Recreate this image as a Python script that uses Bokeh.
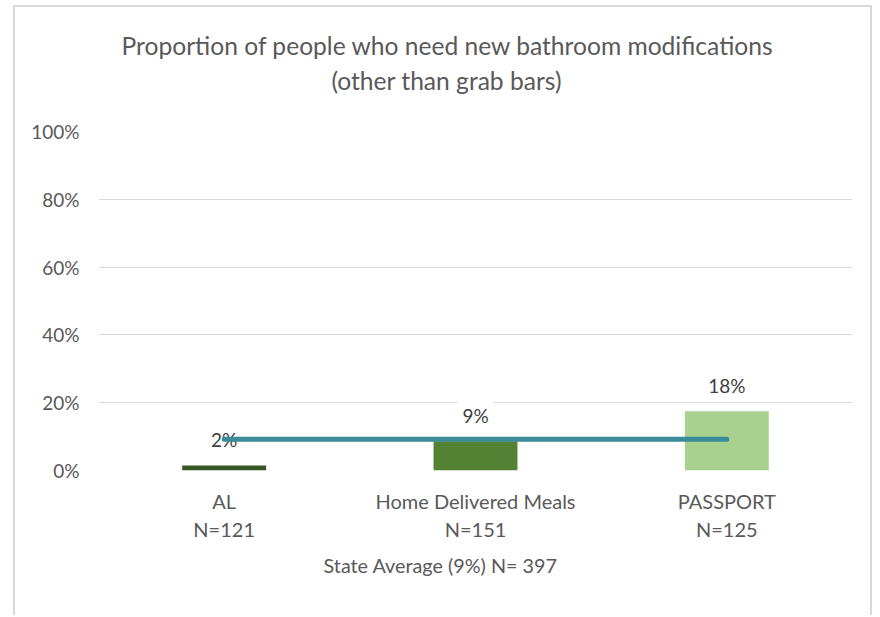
from bokeh.plotting import figure
from bokeh.models import (FactorRange, Range1d, CategoricalAxis, ColumnDataSource,
                          FixedTicker, NumeralTickFormatter, Title)
from bokeh.core.properties import value
from bokeh.embed import file_html
from bokeh.resources import INLINE

# ---------------- data ----------------
title_lines = ["Proportion of people who need new bathroom modifications",
               "(other than grab bars)"]
categories = ["AL", "Home Delivered Meals", "PASSPORT"]
n_labels = ["N=121", "N=151", "N=125"]
shares = [0.015, 0.086, 0.175]
share_labels = ["2%", "9%", "18%"]
state_average = 0.092
axis_title = "State Average (9%) N= 397"
y_ticks = [0, 0.2, 0.4, 0.6, 0.8, 1.0]

# ---------------- style ----------------
bar_colors = ["#375623", "#548235", "#a9d18e"]
line_color = "#3a8c98"
grid_color = "#d9d9d9"
axis_text = "#595959"
label_text = "#404040"
FONT = "Lato"

# page geometry (px)
OX, OY = 15, 7            # figure content origin on page
W, H = 859, 610           # figure size
FL, FR, FT, FB = 98, 852, 131, 470   # plot frame on page

p = figure(width=W, height=H, x_range=FactorRange(*categories), y_range=Range1d(0, 1),
           output_backend="svg", toolbar_location=None, title=None,
           min_border_left=FL - OX, min_border_right=OX + W - FR,
           min_border_top=FT - OY, min_border_bottom=OY + H - FB)
p.styles = {"margin-left": "13px", "margin-top": "5px",
            "border-left": f"2px solid {grid_color}",
            "border-top": f"2px solid {grid_color}",
            "border-right": f"2px solid {grid_color}"}
p.outline_line_color = None
p.background_fill_color = "white"
p.border_fill_color = "white"

src = ColumnDataSource(dict(cat=categories, share=shares, lbl=share_labels, color=bar_colors))

p.vbar(x="cat", top="share", width=0.334, fill_color="color", line_color=None, source=src)
p.text(x="cat", y="share", text="lbl", source=src, text_align="center",
       text_baseline="middle", y_offset=-26, text_font=value(FONT),
       text_font_size="19px", text_color=label_text,
       background_fill_color="white", padding=5)
p.line(x=categories, y=[state_average] * len(categories), line_color=line_color,
       line_width=5, line_cap="round")

# grid
p.xgrid.visible = False
p.ygrid.ticker = FixedTicker(ticks=y_ticks)
p.ygrid.grid_line_color = grid_color
p.ygrid.grid_line_width = 1

# y axis
p.yaxis.ticker = FixedTicker(ticks=y_ticks)
p.yaxis.formatter = NumeralTickFormatter(format="0%")
for ax in p.yaxis:
    ax.axis_line_color = None
    ax.major_tick_line_color = None
    ax.minor_tick_line_color = None
    ax.major_tick_out = 0
    ax.major_tick_in = 0
    ax.major_label_standoff = 19
    ax.major_label_text_font = FONT
    ax.major_label_text_font_size = "19px"
    ax.major_label_text_color = axis_text

# x axes
p.extra_x_ranges = {"n": FactorRange(*n_labels)}
ax2 = CategoricalAxis(x_range_name="n")
p.add_layout(ax2, "below")
for ax, so in ((p.xaxis[0], 18), (ax2, 1)):
    ax.axis_line_color = None
    ax.major_tick_line_color = None
    ax.minor_tick_line_color = None
    ax.major_tick_out = 0
    ax.major_tick_in = 0
    ax.major_label_standoff = so
    ax.major_label_text_font = FONT
    ax.major_label_text_font_size = "20px"
    ax.major_label_text_color = axis_text


def add_title(text, offset, size, side, standoff):
    p.add_layout(Title(text=text, align="left", offset=offset, standoff=standoff,
                       text_font=FONT, text_font_size=size, text_font_style="normal",
                       text_color=axis_text), side)


# blank spacer between the frame and the title lines, then the lines (nearest first)
add_title(" ", 0, "1px", "above", 32)
add_title(title_lines[1], 233, "24.6px", "above", 4)
add_title(title_lines[0], 23, "24.6px", "above", 4)
add_title(axis_title, 225, "19.8px", "below", 14)

open("out.html", "w").write(file_html(p, INLINE))
